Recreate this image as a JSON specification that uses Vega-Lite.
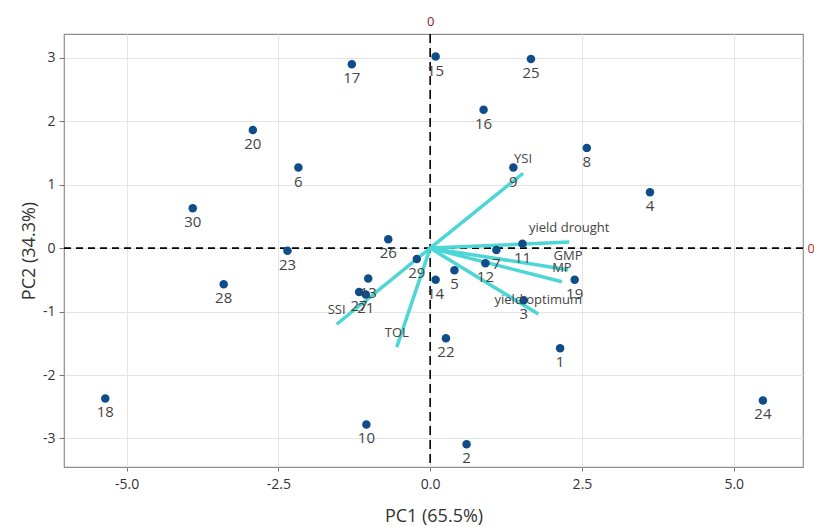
{
  "$schema": "https://vega.github.io/schema/vega-lite/v6.json",
  "width": 739,
  "height": 433,
  "autosize": {"type": "none"},
  "padding": {"left": 64, "top": 34, "right": 11, "bottom": 60},
  "background": "white",
  "config": {
    "view": {"stroke": "#8f8f8f", "strokeWidth": 1.2},
    "font": "Open Sans",
    "axis": {
      "gridColor": "#e4e4e4",
      "gridWidth": 1,
      "domain": false,
      "tickColor": "#777777",
      "labelColor": "#333333",
      "labelFontSize": 14,
      "titleColor": "#333333",
      "titleFontSize": 18,
      "titleFontWeight": "normal"
    }
  },
  "datasets": {
    "ind": [
      {"id": "1", "x": 2.14, "y": -1.58},
      {"id": "2", "x": 0.60, "y": -3.09},
      {"id": "3", "x": 1.54, "y": -0.82},
      {"id": "4", "x": 3.62, "y": 0.88},
      {"id": "5", "x": 0.40, "y": -0.35},
      {"id": "6", "x": -2.17, "y": 1.27},
      {"id": "7", "x": 1.09, "y": -0.03},
      {"id": "8", "x": 2.58, "y": 1.58},
      {"id": "9", "x": 1.37, "y": 1.27},
      {"id": "10", "x": -1.05, "y": -2.78},
      {"id": "11", "x": 1.52, "y": 0.07},
      {"id": "12", "x": 0.91, "y": -0.24},
      {"id": "13", "x": -1.02, "y": -0.48},
      {"id": "14", "x": 0.09, "y": -0.50},
      {"id": "15", "x": 0.09, "y": 3.02},
      {"id": "16", "x": 0.88, "y": 2.18},
      {"id": "17", "x": -1.29, "y": 2.90},
      {"id": "18", "x": -5.35, "y": -2.37},
      {"id": "19", "x": 2.38, "y": -0.50},
      {"id": "20", "x": -2.92, "y": 1.86},
      {"id": "21", "x": -1.06, "y": -0.73},
      {"id": "22", "x": 0.26, "y": -1.42},
      {"id": "23", "x": -2.35, "y": -0.04},
      {"id": "24", "x": 5.48, "y": -2.40},
      {"id": "25", "x": 1.66, "y": 2.98},
      {"id": "26", "x": -0.69, "y": 0.14},
      {"id": "27", "x": -1.17, "y": -0.69},
      {"id": "28", "x": -3.40, "y": -0.57},
      {"id": "29", "x": -0.22, "y": -0.17},
      {"id": "30", "x": -3.91, "y": 0.63}
    ],
    "vars": [
      {"name": "YSI", "x": 1.53, "y": 1.18},
      {"name": "yield drought", "x": 2.29, "y": 0.095},
      {"name": "GMP", "x": 2.27, "y": -0.34},
      {"name": "MP", "x": 2.17, "y": -0.53},
      {"name": "yield optimum", "x": 1.78, "y": -1.04},
      {"name": "SSI", "x": -1.54, "y": -1.20},
      {"name": "TOL", "x": -0.55, "y": -1.56}
    ],
    "ref": [{"v": 0}]
  },
  "resolve": {"axis": {"x": "independent", "y": "independent"}},
  "layer": [
    {
      "data": {"name": "ind"},
      "mark": {"type": "point", "opacity": 0},
      "encoding": {
        "x": {"field": "x", "type": "quantitative",
          "scale": {"domain": [-6.03, 6.14], "nice": false, "zero": false},
          "axis": {"orient": "bottom", "values": [-5, -2.5, 0, 2.5, 5], "format": ".1f", "labelExpr": "replace(datum.label, '\u2212', '-')", "title": "PC1 (65.5%)", "tickSize": 4, "labelPadding": 6, "titlePadding": 16}},
        "y": {"field": "y", "type": "quantitative",
          "scale": {"domain": [-3.45, 3.375], "nice": false, "zero": false},
          "axis": {"orient": "left", "values": [-3, -2, -1, 0, 1, 2, 3], "format": "d", "labelExpr": "replace(datum.label, '\u2212', '-')", "title": "PC2 (34.3%)", "tickSize": 5, "labelPadding": 4, "titlePadding": 4}}
      }
    },
    {
      "data": {"name": "ref"},
      "mark": {"type": "rule", "color": "black", "strokeWidth": 1.6, "strokeDash": [9, 5]},
      "encoding": {
        "x": {"field": "v", "type": "quantitative",
          "scale": {"domain": [-6.03, 6.14], "nice": false, "zero": false},
          "axis": {"orient": "top", "values": [0], "format": "d", "ticks": false, "grid": false, "title": null, "labelColor": "#8b2323", "labelFontSize": 13, "labelPadding": 6}}
      }
    },
    {
      "data": {"name": "ref"},
      "mark": {"type": "rule", "color": "black", "strokeWidth": 1.6, "strokeDash": [7, 5]},
      "encoding": {
        "y": {"field": "v", "type": "quantitative",
          "scale": {"domain": [-3.45, 3.375], "nice": false, "zero": false},
          "axis": {"orient": "right", "values": [0], "format": "d", "ticks": false, "grid": false, "title": null, "labelColor": "#b03030", "labelFontSize": 13, "labelPadding": 4}}
      }
    },
    {
      "data": {"name": "vars"},
      "mark": {"type": "rule", "color": "#4dd6d6", "strokeWidth": 3.5, "strokeCap": "butt"},
      "encoding": {
        "x": {"field": "x", "type": "quantitative", "scale": {"domain": [-6.03, 6.14], "nice": false, "zero": false}, "axis": null},
        "y": {"field": "y", "type": "quantitative", "scale": {"domain": [-3.45, 3.375], "nice": false, "zero": false}, "axis": null},
        "x2": {"datum": 0},
        "y2": {"datum": 0}
      }
    },
    {
      "data": {"name": "ind"},
      "mark": {"type": "circle", "color": "#0f4d8a", "opacity": 1, "size": 72},
      "encoding": {
        "x": {"field": "x", "type": "quantitative", "scale": {"domain": [-6.03, 6.14], "nice": false, "zero": false}, "axis": null},
        "y": {"field": "y", "type": "quantitative", "scale": {"domain": [-3.45, 3.375], "nice": false, "zero": false}, "axis": null}
      }
    },
    {
      "data": {"name": "ind"},
      "mark": {"type": "text", "dy": 14, "fontSize": 15, "color": "#444444", "baseline": "middle", "align": "center"},
      "encoding": {
        "x": {"field": "x", "type": "quantitative", "scale": {"domain": [-6.03, 6.14], "nice": false, "zero": false}, "axis": null},
        "y": {"field": "y", "type": "quantitative", "scale": {"domain": [-3.45, 3.375], "nice": false, "zero": false}, "axis": null},
        "text": {"field": "id"}
      }
    },
    {
      "data": {"name": "vars"},
      "mark": {"type": "text", "dy": -14, "fontSize": 13, "color": "#444444", "baseline": "middle", "align": "center"},
      "encoding": {
        "x": {"field": "x", "type": "quantitative", "scale": {"domain": [-6.03, 6.14], "nice": false, "zero": false}, "axis": null},
        "y": {"field": "y", "type": "quantitative", "scale": {"domain": [-3.45, 3.375], "nice": false, "zero": false}, "axis": null},
        "text": {"field": "name"}
      }
    }
  ]
}
